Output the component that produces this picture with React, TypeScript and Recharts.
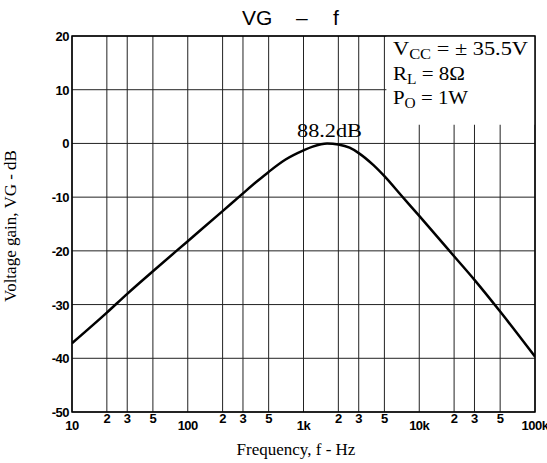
import React from 'react';
import { LineChart, Line, XAxis, YAxis, CartesianGrid, ReferenceArea } from 'recharts';

// frequency response (0 dB = 88.2 dB)
const freqs = [10, 20, 30, 50, 100, 200, 300, 400, 500, 700, 1000, 1200, 1600, 2000, 2500, 3000, 4000, 5000, 7000, 10000, 20000, 30000, 50000, 100000];
const gains = [-37.2, -31.5, -28.0, -23.8, -18.2, -12.6, -9.3, -7.0, -5.3, -3.0, -1.3, -0.6, 0, -0.2, -0.8, -1.8, -4.0, -6.1, -9.7, -13.5, -21.0, -25.4, -31.3, -39.7];

const xTicks = [10, 20, 30, 50, 100, 200, 300, 500, 1000, 2000, 3000, 5000, 10000, 20000, 30000, 50000, 100000];
const xTickLabels = ['10', '2', '3', '5', '100', '2', '3', '5', '1k', '2', '3', '5', '10k', '2', '3', '5', '100k'];
const yTicks = [-50, -40, -30, -20, -10, 0, 10, 20];

const data = freqs.map((f, i) => ({ f, vg: gains[i] }));

const tickFont = '"Liberation Sans", Arial, sans-serif';
const serif = '"Liberation Serif", "Times New Roman", serif';

const XTick = (props: any) => {
    const { x, y, payload } = props;
    const idx = xTicks.indexOf(payload.value);
    const label = xTickLabels[idx] ?? '';
    const decade = !['2', '3', '5'].includes(label);
    return (
        <text x={x} y={y + (decade ? 18 : 11)} textAnchor="middle" fontFamily={tickFont} fontWeight="bold" fontSize={13} fill="#000" letterSpacing={-0.5}>
            {label}
        </text>
    );
};

const YTick = (props: any) => {
    const { x, y, payload } = props;
    return (
        <text x={x - 3} y={y + 5} textAnchor="end" fontFamily={tickFont} fontWeight="bold" fontSize={13} fill="#000" letterSpacing={-0.5}>
            {payload.value}
        </text>
    );
};

// test conditions, drawn on top of the white patch
const Conditions = () => (
    <g>
        <text x={393} y={55} fontFamily={serif} fontSize={19} fill="#000" textLength={135} lengthAdjust="spacingAndGlyphs">
            V<tspan fontSize={14} dy={4}>CC</tspan><tspan dy={-4}>{' = ± 35.5V'}</tspan>
        </text>
        <text x={393} y={80} fontFamily={serif} fontSize={19} fill="#000" textLength={72} lengthAdjust="spacingAndGlyphs">
            R<tspan fontSize={14} dy={4}>L</tspan><tspan dy={-4}>{' = 8Ω'}</tspan>
        </text>
        <text x={393} y={104} fontFamily={serif} fontSize={19} fill="#000" textLength={75} lengthAdjust="spacingAndGlyphs">
            P<tspan fontSize={14} dy={4}>O</tspan><tspan dy={-4}>{' = 1W'}</tspan>
        </text>
    </g>
);

const App: React.FC = () => {
    return (
        <div style={{ width: 547, height: 463, background: '#fff' }}>
            <style>{'body{margin:0}'}</style>
            <LineChart width={547} height={463} data={data} margin={{ top: 36, right: 12, bottom: 21, left: 0 }}>
                <CartesianGrid stroke="#222" strokeWidth={1} />
                <XAxis
                    dataKey="f"
                    type="number"
                    scale="log"
                    domain={[10, 100000]}
                    ticks={xTicks}
                    tick={<XTick />}
                    tickLine={false}
                    tickSize={0}
                    tickMargin={0}
                    axisLine={false}
                    height={30}
                    interval={0}
                    allowDataOverflow
                />
                <YAxis
                    type="number"
                    domain={[-50, 20]}
                    ticks={yTicks}
                    tick={<YTick />}
                    tickLine={false}
                    tickSize={0}
                    tickMargin={0}
                    axisLine={false}
                    width={72}
                    interval={0}
                />
                {/* white patch behind the condition text */}
                <ReferenceArea x1={5200} x2={100000} y1={3.5} y2={20} fill="#fff" fillOpacity={1} stroke="none" label={<Conditions />} />
                <ReferenceArea x1={10} x2={100000} y1={-50} y2={20} fill="none" stroke="#000" strokeWidth={1.5} />
                <Line
                    dataKey="vg"
                    type="monotone"
                    stroke="#000"
                    strokeWidth={2.5}
                    dot={false}
                    isAnimationActive={false}
                />
                <text y={25} fontFamily={tickFont} fontSize={21} fill="#000">
                    <tspan x={242}>VG</tspan>
                    <tspan x={296}>–</tspan>
                    <tspan x={333}>f</tspan>
                </text>
                <text x={297} y={137} fontFamily={serif} fontSize={19} fill="#000" textLength={65} lengthAdjust="spacingAndGlyphs">88.2dB</text>
                <text x={296} y={455} textAnchor="middle" fontFamily={serif} fontSize={17} fill="#000">Frequency, f - Hz</text>
                <text x={16} y={226} textAnchor="middle" transform="rotate(-90 16 226)" fontFamily={serif} fontSize={17} fill="#000">Voltage gain, VG - dB</text>
            </LineChart>
        </div>
    );
};

export default App;
